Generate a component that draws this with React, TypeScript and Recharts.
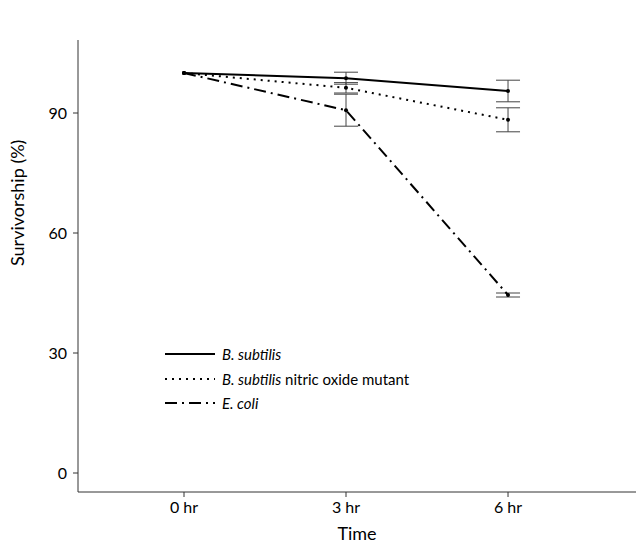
import React from "react";
import { LineChart, Line, XAxis, YAxis, ErrorBar } from "recharts";

const hours = [0, 3, 6];
const bsValues = [100, 98.7, 95.5];
const bsErrors = [0, 1.5, 2.7];
const mutValues = [100, 96.3, 88.3];
const mutErrors = [0, 1.3, 3.0];
const ecValues = [100, 90.7, 44.5];
const ecErrors = [0, 4.0, 0.5];
const yTicks = [0, 30, 60, 90];

const data = hours.map((t, i) => ({
  t,
  bs: bsValues[i],
  bsErr: bsErrors[i],
  mut: mutValues[i],
  mutErr: mutErrors[i],
  ec: ecValues[i],
  ecErr: ecErrors[i],
}));

const FONT = "Lato, 'Open Sans', sans-serif";

const legendItems = [
  { dash: undefined as string | undefined, label: [<i key="a">B. subtilis</i>] },
  { dash: "2 5", label: [<i key="a">B. subtilis</i>, <span key="b"> nitric oxide mutant</span>] },
  { dash: "12 5 2 5", label: [<i key="a">E. coli</i>] },
];

const CustomLegend = () => (
  <div style={{ position: "absolute", left: 162, top: 342, fontFamily: FONT, fontSize: 15, color: "#000" }}>
    {legendItems.map((it, i) => (
      <div key={i} style={{ display: "flex", alignItems: "center", height: 24.5 }}>
        <svg width={56} height={10} style={{ marginRight: 4 }}>
          <line x1={3} y1={5} x2={53} y2={5} stroke="#000" strokeWidth={2} strokeDasharray={it.dash} />
        </svg>
        <span>{it.label}</span>
      </div>
    ))}
  </div>
);

const Dot = (props: any) => {
  const { cx, cy } = props;
  if (cx == null || cy == null) return null;
  return <circle cx={cx} cy={cy} r={2} fill="#000" />;
};

export default function App() {
  return (
    <div style={{ position: "absolute", left: 0, top: 0, width: 636, height: 544, background: "#fff" }}>
      <LineChart
        width={636}
        height={544}
        data={data}
        margin={{ top: 40, right: 0, bottom: 0, left: 18 }}
      >
        <XAxis
          dataKey="t"
          type="number"
          domain={[-1.963, 8.37]}
          allowDataOverflow
          ticks={hours}
          tickFormatter={(v: number) => `${v} hr`}
          height={52}
          stroke="#333"
          tickSize={5}
          tickMargin={5}
          tick={{ fill: "#000", fontSize: 16, fontFamily: FONT }}
          label={{ value: "Time", position: "insideBottom", offset: 4, fill: "#000", fontSize: 18, fontFamily: FONT }}
        />
        <YAxis
          type="number"
          domain={[-4.75, 108.25]}
          allowDataOverflow
          ticks={yTicks}
          width={60}
          stroke="#333"
          tickSize={5}
          tickMargin={6}
          tick={{ fill: "#000", fontSize: 16, fontFamily: FONT }}
          label={{ value: "Survivorship (%)", angle: -90, position: "insideLeft", offset: 0, dy: 0, fill: "#000", fontSize: 18, fontFamily: FONT }}
        />
        <Line dataKey="bs" stroke="#000" strokeWidth={2} dot={<Dot />} isAnimationActive={false}>
          <ErrorBar dataKey="bsErr" width={12} stroke="#444" strokeWidth={1} />
        </Line>
        <Line dataKey="mut" stroke="#000" strokeWidth={2} strokeDasharray="2 5" dot={<Dot />} isAnimationActive={false}>
          <ErrorBar dataKey="mutErr" width={12} stroke="#444" strokeWidth={1} />
        </Line>
        <Line dataKey="ec" stroke="#000" strokeWidth={2} strokeDasharray="12 5 2 5" dot={<Dot />} isAnimationActive={false}>
          <ErrorBar dataKey="ecErr" width={12} stroke="#444" strokeWidth={1} />
        </Line>
      </LineChart>
      <CustomLegend />
    </div>
  );
}
